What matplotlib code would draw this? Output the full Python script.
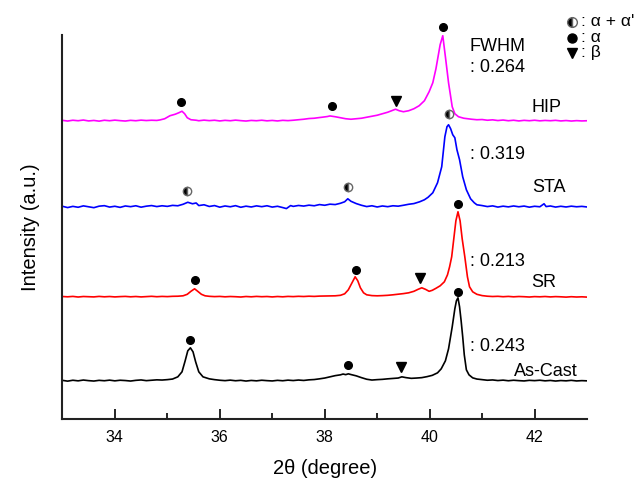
import matplotlib.pyplot as plt

plt.rcParams['font.family'] = ['Liberation Sans', 'DejaVu Sans']

# XRD traces: (2theta, intensity above the trace baseline)
as_cast = [
    (33.0, 0.5), (33.1, -0.3), (33.2, 0.6), (33.3, 0.0), (33.4, 0.8), (33.5, 0.2), (33.6, -0.2), (33.7, 0.5),
    (33.8, 0.1), (33.9, 0.7), (34.0, 0.0), (34.1, 0.6), (34.2, 0.3), (34.3, -0.2), (34.4, 0.5), (34.5, 0.9),
    (34.6, 0.2), (34.7, 0.6), (34.8, 1.0), (34.9, 0.8), (35.0, 1.2), (35.1, 1.8), (35.2, 4), (35.28, 9),
    (35.34, 20), (35.39, 30), (35.44, 33), (35.49, 29), (35.54, 19), (35.6, 9), (35.68, 4), (35.8, 2),
    (35.9, 1.2), (36.0, 0.6), (36.1, 0.2), (36.2, 0.7), (36.3, 0.1), (36.4, 0.5), (36.5, -0.2), (36.6, 0.4),
    (36.7, 0.0), (36.8, 0.6), (36.9, 0.2), (37.0, -0.1), (37.1, 0.5), (37.2, 0.1), (37.3, 0.7), (37.4, 0.3),
    (37.5, 0.8), (37.6, 0.4), (37.7, 1.0), (37.8, 1.3), (37.9, 2.0), (38.0, 2.8), (38.1, 4.0), (38.2, 5.2),
    (38.3, 6.0), (38.35, 6.8), (38.4, 6.2), (38.45, 7.0), (38.5, 6.3), (38.6, 5.0), (38.7, 3.2), (38.8, 1.6),
    (38.9, 0.8), (39.0, 1.2), (39.1, 1.5), (39.2, 2.0), (39.3, 2.4), (39.4, 2.8), (39.47, 4.0), (39.55, 3.2),
    (39.65, 2.5), (39.75, 2.8), (39.85, 3.2), (39.95, 4.2), (40.05, 5.5), (40.15, 8), (40.22, 12), (40.3, 20),
    (40.36, 32), (40.43, 54), (40.48, 72), (40.51, 80), (40.54, 83), (40.57, 74), (40.6, 60), (40.63, 44),
    (40.66, 26), (40.7, 11), (40.75, 6), (40.82, 3), (40.9, 1.8), (41.0, 1.2), (41.1, 0.6), (41.2, 0.9),
    (41.3, 0.3), (41.4, 0.7), (41.5, 0.1), (41.6, 0.6), (41.7, 0.2), (41.8, -0.1), (41.9, 0.5), (42.0, 0.2),
    (42.1, 0.6), (42.2, 0.0), (42.3, 0.4), (42.4, -0.2), (42.5, 0.3), (42.6, 0.0), (42.7, 0.5), (42.8, -0.1),
    (42.9, 0.2), (43.0, 0.0),
]

sr = [
    (33.0, 0.3), (33.1, 0.0), (33.2, 0.4), (33.3, -0.2), (33.4, 0.3), (33.5, 0.1), (33.6, -0.1), (33.7, 0.4),
    (33.8, 0.0), (33.9, 0.3), (34.0, -0.1), (34.1, 0.2), (34.2, 0.4), (34.3, 0.0), (34.4, 0.3), (34.5, -0.1),
    (34.6, 0.2), (34.7, 0.5), (34.8, 0.1), (34.9, 0.4), (35.0, 0.2), (35.1, 0.5), (35.2, 0.6), (35.3, 1.0),
    (35.38, 2.5), (35.45, 5.5), (35.52, 8.0), (35.58, 5.5), (35.65, 2.5), (35.72, 1.0), (35.8, 0.5), (35.9, 0.2),
    (36.0, 0.4), (36.1, 0.0), (36.2, 0.3), (36.3, 0.1), (36.4, -0.2), (36.5, 0.3), (36.6, 0.0), (36.7, 0.4),
    (36.8, 0.1), (36.9, 0.3), (37.0, -0.1), (37.1, 0.3), (37.2, 0.0), (37.3, 0.4), (37.4, 0.2), (37.5, 0.5),
    (37.6, 0.3), (37.7, 0.6), (37.8, 0.4), (37.9, 0.7), (38.0, 0.8), (38.1, 0.9), (38.2, 1.0), (38.3, 1.5),
    (38.38, 3), (38.45, 7), (38.52, 14), (38.58, 20), (38.63, 16), (38.68, 9), (38.74, 4), (38.8, 2),
    (38.9, 1.2), (39.0, 1.0), (39.1, 1.2), (39.2, 1.5), (39.3, 2.0), (39.4, 2.6), (39.5, 3.2), (39.6, 4.0),
    (39.7, 5.5), (39.78, 7.5), (39.85, 9.0), (39.92, 7.5), (39.99, 5.5), (40.05, 6.5), (40.12, 8.5), (40.2, 11),
    (40.28, 15), (40.34, 22), (40.38, 30), (40.42, 40), (40.46, 58), (40.5, 76), (40.54, 85), (40.58, 76),
    (40.62, 58), (40.67, 40), (40.72, 20), (40.76, 10), (40.82, 5), (40.9, 2.5), (41.0, 1.2), (41.1, 0.6),
    (41.2, 0.3), (41.3, 0.5), (41.4, 0.1), (41.5, 0.4), (41.6, 0.0), (41.7, 0.3), (41.8, 0.1), (41.9, -0.2),
    (42.0, 0.2), (42.1, 0.0), (42.2, 0.3), (42.3, -0.1), (42.4, 0.2), (42.5, 0.0), (42.6, -0.3), (42.7, 0.1),
    (42.8, -0.2), (42.9, 0.0), (43.0, -0.3),
]

sta = [
    (33.0, 0.5), (33.1, -0.8), (33.2, 0.4), (33.3, -0.5), (33.4, 0.9), (33.5, 0.0), (33.6, -0.9), (33.7, 0.6),
    (33.8, 1.1), (33.9, -0.3), (34.0, 0.5), (34.1, -0.6), (34.2, 0.8), (34.3, 0.1), (34.4, 1.0), (34.5, -0.4),
    (34.6, 0.6), (34.7, 1.2), (34.8, 0.2), (34.9, 1.0), (35.0, 0.4), (35.1, 1.4), (35.2, 1.0), (35.3, 2.5),
    (35.39, 4.5), (35.48, 3.0), (35.55, 3.8), (35.6, 1.2), (35.7, 2.0), (35.8, 0.3), (35.9, 1.2), (36.0, -0.4),
    (36.1, 0.8), (36.2, 0.0), (36.3, 1.1), (36.4, -0.5), (36.5, 0.6), (36.6, -0.2), (36.7, 0.9), (36.8, 0.1),
    (36.9, 1.0), (37.0, -0.3), (37.1, 0.5), (37.2, -0.8), (37.27, -1.8), (37.35, 1.2), (37.4, 0.4), (37.5, 1.3),
    (37.6, 0.7), (37.7, 1.6), (37.8, 1.0), (37.9, 2.2), (38.0, 1.5), (38.1, 2.6), (38.2, 2.2), (38.3, 3.5),
    (38.38, 5.0), (38.44, 8.0), (38.5, 5.5), (38.6, 3.2), (38.7, 1.5), (38.8, 0.2), (38.9, 1.0), (39.0, -0.2),
    (39.1, 0.8), (39.2, 0.1), (39.3, 1.0), (39.4, 0.6), (39.5, 1.5), (39.6, 2.5), (39.7, 3.2), (39.81, 5),
    (39.9, 7), (39.97, 9.5), (40.06, 14), (40.15, 24), (40.23, 40), (40.29, 70), (40.33, 80), (40.36, 82),
    (40.4, 78), (40.44, 72), (40.48, 69), (40.52, 57), (40.57, 47), (40.63, 30), (40.7, 17), (40.78, 8),
    (40.85, 4), (40.9, 2), (41.0, 1.2), (41.1, 0.2), (41.2, 0.9), (41.3, -0.3), (41.4, 0.6), (41.5, -0.1),
    (41.6, 0.8), (41.7, 0.0), (41.8, 0.7), (41.9, -0.4), (42.0, 0.5), (42.1, 0.0), (42.18, 3.0), (42.22, 0.2),
    (42.3, 0.8), (42.4, -0.3), (42.5, 0.5), (42.6, -0.2), (42.7, 0.6), (42.8, 0.0), (42.9, 0.4), (43.0, -0.2),
]

hip = [
    (33.0, 0.4), (33.1, -0.3), (33.2, 0.5), (33.3, 0.0), (33.4, 0.7), (33.5, -0.2), (33.6, 0.3), (33.7, -0.4),
    (33.8, 0.5), (33.9, 0.0), (34.0, 0.6), (34.1, 0.1), (34.2, -0.3), (34.3, 0.4), (34.4, 0.0), (34.5, 0.6),
    (34.6, 0.2), (34.7, 0.5), (34.8, 0.3), (34.86, 0.8), (34.95, 2.0), (35.05, 5.0), (35.15, 6.5), (35.22, 8.0),
    (35.28, 9.5), (35.33, 7.0), (35.38, 3.0), (35.45, 1.0), (35.55, 0.5), (35.6, 0.0), (35.7, 0.6), (35.8, 0.1),
    (35.9, 0.5), (36.0, -0.2), (36.1, 0.4), (36.2, 0.0), (36.3, 0.6), (36.4, 0.1), (36.5, -0.3), (36.6, 0.3),
    (36.7, 0.0), (36.8, 0.5), (36.9, -0.1), (37.0, 0.3), (37.1, -0.2), (37.2, 0.4), (37.3, 0.1), (37.4, 0.5),
    (37.5, 1.0), (37.6, 1.5), (37.7, 2.2), (37.8, 2.5), (37.9, 3.2), (37.95, 3.5), (38.05, 4.2), (38.1, 4.8),
    (38.2, 4.0), (38.3, 3.0), (38.4, 2.0), (38.5, 1.5), (38.6, 2.0), (38.7, 2.5), (38.8, 3.5), (38.9, 4.5),
    (39.0, 5.5), (39.1, 7.0), (39.2, 8.5), (39.3, 10.5), (39.35, 11.5), (39.42, 10.0), (39.5, 9.0), (39.6, 10.0),
    (39.7, 12.0), (39.8, 15.0), (39.9, 20.0), (39.99, 29), (40.06, 38), (40.12, 52), (40.16, 64), (40.2, 76),
    (40.25, 85), (40.3, 64), (40.36, 38), (40.43, 14), (40.48, 7), (40.55, 4), (40.65, 2.5), (40.8, 1.5),
    (40.9, 1.0), (41.0, 1.2), (41.1, 0.5), (41.2, 0.9), (41.3, 0.2), (41.4, 0.7), (41.5, 0.0), (41.6, 0.5),
    (41.7, -0.2), (41.8, 0.4), (41.9, 0.0), (42.0, 0.5), (42.1, -0.1), (42.2, 0.3), (42.3, 0.0), (42.4, 0.4),
    (42.5, -0.2), (42.6, 0.2), (42.7, -0.3), (42.8, 0.1), (42.9, -0.2), (43.0, 0.0),
]

names = ["As-Cast", "SR", "STA", "HIP"]
fwhm = ["0.243", "0.213", "0.319", "0.264"]
colors = ["black", "#ff0000", "#0000ff", "#ff00ff"]
offsets = [38, 122, 212, 298]

# phase markers: (2theta, height above baseline, kind) a = alpha, b = beta, m = alpha + alpha'
marks = [
    [(35.43, 41, "a"), (38.44, 16, "a"), (39.46, 14, "b"), (40.54, 89, "a")],
    [(35.52, 17, "a"), (38.59, 27, "a"), (39.82, 19, "b"), (40.54, 93, "a")],
    [(35.38, 16, "m"), (38.44, 20, "m"), (40.36, 93, "m")],
    [(35.27, 19, "a"), (38.13, 15, "a"), (39.35, 20, "b"), (40.25, 94, "a")],
]

name_pos = [(42.82, 47), (42.42, 136), (42.59, 231), (42.51, 311)]
fwhm_pos = [(40.76, 72), (40.76, 157), (40.76, 264), (40.76, 351)]


def draw_mark(ax, x, y, kind, ms=5.5):
    if kind == "a":
        ax.plot(x, y, "o", color="black", ms=ms, clip_on=False, zorder=5)
    elif kind == "b":
        ax.plot(x, y, "v", color="black", ms=ms + 1, clip_on=False, zorder=5)
    else:
        ax.plot(x, y, "o", ms=ms + 0.5, fillstyle="left", markerfacecolor="black",
                markerfacecoloralt="white", markeredgecolor="#666666",
                markeredgewidth=1.0, clip_on=False, zorder=5)


fig = plt.figure(figsize=(6.43, 4.82), dpi=100)
ax = fig.add_axes([0.097, 0.131, 0.816, 0.797])

traces = [as_cast, sr, sta, hip]
for pts, off, c, ml in zip(traces, offsets, colors, marks):
    xs = [p[0] for p in pts]
    ys = [p[1] + off for p in pts]
    ax.plot(xs, ys, color=c, lw=1.2)
    for x, h, k in ml:
        draw_mark(ax, x, off + h, k)

for n, (x, y) in zip(names, name_pos):
    ax.text(x, y, n, fontsize=13, ha="right", va="center")
for f, (x, y) in zip(fwhm, fwhm_pos):
    ax.text(x, y, ": " + f, fontsize=13, ha="left", va="center")
ax.text(40.76, 372, "FWHM", fontsize=13, ha="left", va="center")

# legend of phase symbols
legend_items = [("m", ": \u03b1 + \u03b1'"), ("a", ": \u03b1"), ("b", ": \u03b2")]
legend_y = [397, 381, 366]
for (k, lab), y in zip(legend_items, legend_y):
    draw_mark(ax, 42.72, y, k, ms=6.5)
    ax.text(42.88, y, lab, fontsize=12.5, ha="left", va="center", clip_on=False)

ax.set_xlim(33, 43)
ax.set_ylim(0, 384)
ax.set_xticks([34, 36, 38, 40, 42])
ax.set_xticks([35, 37, 39, 41], minor=True)
ax.set_yticks([])
ax.tick_params(axis="x", which="major", direction="in", length=7, width=1.2, labelsize=11.5, pad=8)
ax.tick_params(axis="x", which="minor", direction="in", length=4, width=1.2)
for s in ["top", "right"]:
    ax.spines[s].set_visible(False)
for s in ["left", "bottom"]:
    ax.spines[s].set_linewidth(1.5)
    ax.spines[s].set_color("#222222")

ax.set_xlabel("2\u03b8 (degree)", fontsize=14.5, labelpad=10)
ax.set_ylabel("Intensity (a.u.)", fontsize=14.5, labelpad=16)

fig.savefig("out.png", dpi=100)
